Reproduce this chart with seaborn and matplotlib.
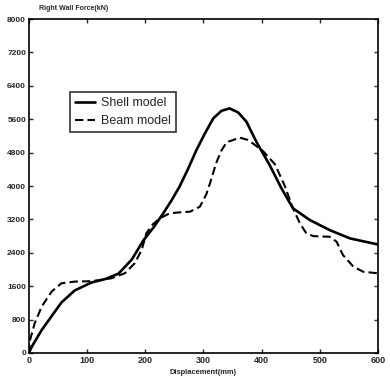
import matplotlib
matplotlib.use("Agg")
import matplotlib.pyplot as plt
import seaborn as sns
import pandas as pd

# --- datos ---
shell_x = [0, 5, 22, 39, 56, 79, 108, 131, 154, 177, 197, 215, 231, 245, 259, 274,
           288, 303, 317, 331, 345, 360, 374, 391, 414, 434, 454, 483, 517, 552,
           580, 600]
shell_y = [0, 150, 550, 880, 1210, 1500, 1690, 1770, 1900, 2240, 2700, 3020, 3345,
           3650, 3985, 4420, 4860, 5270, 5620, 5800, 5860, 5760, 5540, 5060, 4500,
           3950, 3465, 3185, 2945, 2745, 2660, 2600]

beam_x = [0, 2, 10, 22, 39, 56, 79, 108, 142, 165, 182, 194, 202, 213, 225, 242,
          260, 277, 294, 305, 311, 322, 331, 340, 351, 362, 375, 385, 403, 423,
          440, 454, 466, 477, 489, 505, 517, 529, 540, 558, 575, 600]
beam_y = [0, 310, 710, 1110, 1470, 1670, 1710, 1720, 1790, 1910, 2150, 2470, 2870,
          3080, 3225, 3345, 3370, 3385, 3505, 3800, 4050, 4550, 4850, 5050, 5100,
          5160, 5110, 5020, 4830, 4520, 4000, 3465, 3105, 2865, 2800, 2790, 2785,
          2665, 2345, 2065, 1945, 1910]

x_ticks = [0, 100, 200, 300, 400, 500, 600]
y_ticks = [0, 800, 1600, 2400, 3200, 4000, 4800, 5600, 6400, 7200, 8000]

sns.set_style("ticks")
plt.rcParams['font.family'] = ['Liberation Sans', 'DejaVu Sans']

fig = plt.figure(figsize=(3.9, 3.92), dpi=100)
ax = fig.add_axes([0.074, 0.0995, 0.895, 0.852])

df_shell = pd.DataFrame({'x': shell_x, 'y': shell_y})
df_beam = pd.DataFrame({'x': beam_x, 'y': beam_y})

sns.lineplot(data=df_shell, x='x', y='y', ax=ax, color='black', lw=1.9,
             label='Shell model', sort=False)
sns.lineplot(data=df_beam, x='x', y='y', ax=ax, color='black', lw=1.5,
             label='Beam model', sort=False)
ax.lines[1].set_dashes((4, 2))

ax.set_xlim(0, 600)
ax.set_ylim(0, 8000)
ax.set_xticks(x_ticks)
ax.set_yticks(y_ticks)
ax.set_xticklabels([str(v) for v in x_ticks], fontsize=6.5, fontweight='bold')
ax.set_yticklabels([str(v) for v in y_ticks], fontsize=6, fontweight='bold')
ax.tick_params(direction='in', length=3, width=1, top=True, right=True, pad=2)
for s in ax.spines.values():
    s.set_linewidth(1.2)
    s.set_color('black')

ax.set_xlabel('')
ax.set_ylabel('')
fig.text(0.1, 0.988, 'Right Wall Force(kN)', fontsize=5, fontweight='bold',
         ha='left', va='top')
fig.text(0.52, 0.05, 'Displacement(mm)', fontsize=5.4, fontweight='bold',
         ha='center', va='center')

leg = ax.legend(loc='upper left', bbox_to_anchor=(0.117, 0.78), borderaxespad=0,
                fontsize=9, frameon=True, fancybox=False, edgecolor='black',
                handlelength=1.6, borderpad=0.4, labelspacing=0.45,
                handletextpad=0.5)
leg.get_frame().set_linewidth(1.2)

plt.savefig('out.png', dpi=100)
